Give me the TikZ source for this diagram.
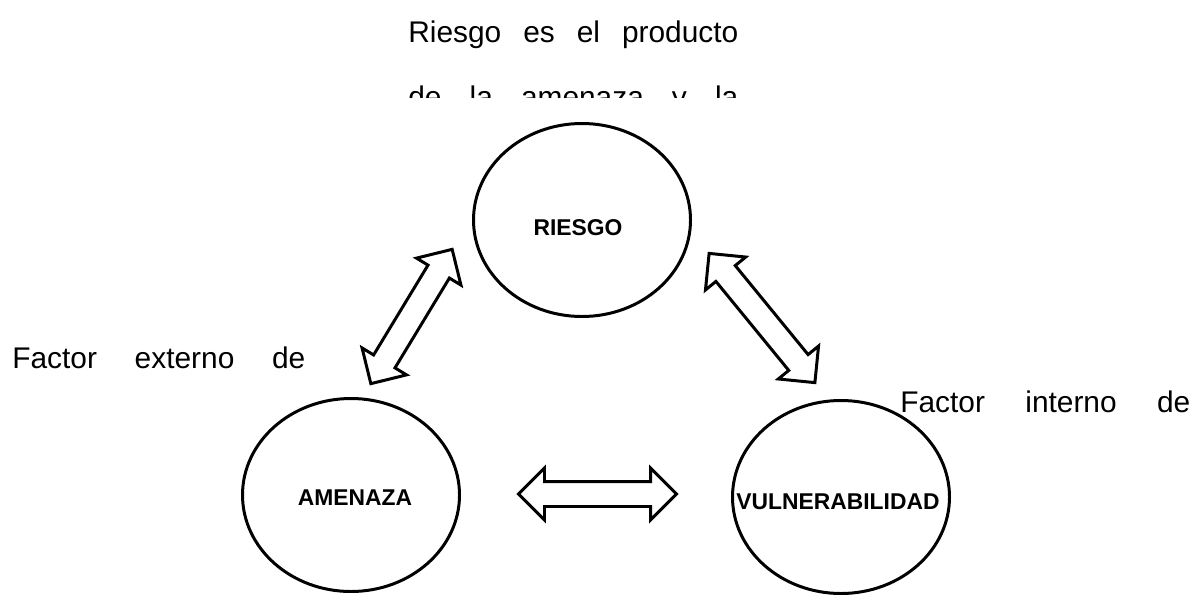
\documentclass[tikz,border=0pt]{standalone}
\usepackage{fontspec}
\setmainfont{Liberation Sans}
\usetikzlibrary{shapes.geometric, shapes.arrows}

\begin{document}
\begin{tikzpicture}
  \tikzstyle{bubble} = [ellipse, draw=black, line width=1.7pt, minimum width=4.34cm, minimum height=3.86cm, inner sep=0pt]
  \tikzstyle{bubbletext} = [font=\fontsize{13}{15}\selectfont\bfseries, inner sep=0pt]
  \tikzstyle{twoway} = [double arrow, draw=black, line width=1.7pt, fill=white, inner xsep=0pt, inner ysep=0.22cm, double arrow head extend=0.27cm]
  \tikzstyle{note} = [anchor=base west, inner sep=0pt, font=\fontsize{17}{20}\selectfont]

  \useasboundingbox (0,0) rectangle (23.94,11.88);

  % Main nodes
  \node (riesgo) at (11.64,7.48) [bubble, label={[bubbletext, xshift=-0.08cm, yshift=-0.16cm]center:RIESGO}] {};
  \node (amenaza) at (7.02,1.98) [bubble, label={[bubbletext, xshift=0.08cm, yshift=-0.06cm]center:AMENAZA}] {};
  \node (vulner) at (16.82,1.94) [bubble, label={[bubbletext, xshift=-0.06cm, yshift=-0.1cm]center:VULNERABILIDAD}] {};

  % Block arrows
  \node (arrowleft) at (8.23,5.55) [twoway, minimum height=3.14cm, rotate=58.8] {};
  \node (arrowright) at (15.24,5.52) [twoway, minimum height=3.34cm, rotate=-50.7] {};
  \node (arrowbottom) at (11.95,2.0) [twoway, minimum height=3.16cm] {};

  % Texts
  \node (intro) at (8.16,11.04) [note] {\makebox[6.6cm][s]{Riesgo es el producto}};
  \begin{scope}
    \clip (0,9.94) rectangle (23.94,11.88);
    \node (introcut) at (8.16,9.74) [note] {\makebox[6.6cm][s]{de la amenaza y la}};
  \end{scope}
  \node (externo) at (0.24,4.52) [note] {\makebox[5.86cm][s]{Factor externo de}};
  \node (interno) at (18.0,3.64) [note] {\makebox[5.8cm][s]{Factor interno de}};
\end{tikzpicture}
\end{document}
